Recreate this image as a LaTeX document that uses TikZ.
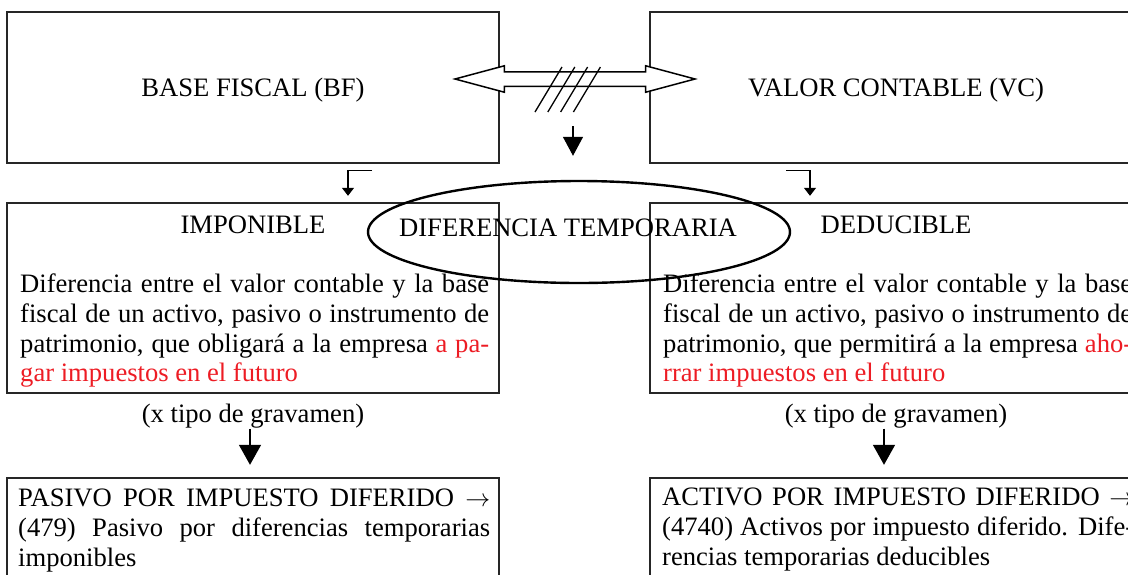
\documentclass[tikz,border=0pt]{standalone}
\usepackage{fontspec}
\setmainfont{Liberation Serif}
\usepackage{tikz}
\usetikzlibrary{arrows.meta,positioning,calc,shapes.geometric,shapes.arrows}
\definecolor{hlred}{RGB}{237,28,36}

\begin{document}
\begin{tikzpicture}[x=1pt, y=-1pt, font=\fontsize{26.6}{29.6}\selectfont,
    box/.style={draw=black!85, line width=2.4pt, minimum width=492pt, inner sep=0pt},
    para/.style={text width=469pt, align=justify, inner sep=0pt, anchor=north west},
    bent/.style={line width=1.2pt, -{Triangle[width=12pt,length=8pt]}},
    down/.style={line width=1.5pt, -{Triangle[width=22pt,length=20pt]}}]
  \clip (0,0) rectangle (1128,574);
  % upper boxes
  \node[box, minimum height=151pt, text depth=0pt] (bf) at (253,87.5) {BASE FISCAL (BF)};
  \node[box, minimum height=151pt, text depth=0pt] (vc) at (896,87.5) {VALOR CONTABLE (VC)};
  \node[draw, fill=white, line width=1.5pt, double arrow, double arrow tip angle=30,
    double arrow head extend=6pt, minimum height=240pt, inner xsep=0pt, inner ysep=6.5pt] (link) at (575,79) {};
  \foreach \i in {0,...,3}
    \draw[line width=1.3pt] ($(link.center)+({-40+12.8*\i},33)$) -- ++(27,-45);
  % middle boxes
  \node[box, minimum height=190pt] (imp) at (253,298) {};
  \node[box, minimum height=190pt] (dec) at (896,298) {};
  \node (impt) at ($(imp.north)+(0,23)$) {IMPONIBLE};
  \node (dect) at ($(dec.north)+(0,23)$) {DEDUCIBLE};
  \node[para] (impp) at (20,274) {Diferencia entre el valor contable y la base\linebreak
    fiscal de un activo, pasivo o instrumento de\linebreak
    patrimonio, que obligará a la empresa \textcolor{hlred}{a pa-\linebreak gar impuestos en el futuro}};
  \node[para] (decp) at (663,274) {Diferencia entre el valor contable y la base\linebreak
    fiscal de un activo, pasivo o instrumento de\linebreak
    patrimonio, que permitirá a la empresa \textcolor{hlred}{aho-\linebreak rrar impuestos en el futuro}};
  \draw[bent] ($(bf.south)+(119,6)$) -| ($(imp.north)+(95,-6)$);
  \draw[bent] ($(vc.south)+(-110,6)$) -| ($(dec.north)+(-86,-6)$);
  \node[draw, ellipse, line width=2.4pt, minimum width=422pt, minimum height=102pt] (diff) at (579,232) {};
  \node (difft) at ($(diff.center)+(-11,-4)$) {DIFERENCIA TEMPORARIA};
  \draw[line width=1.3pt, -{Triangle[width=20pt,length=19pt]}] ($(link.center)+(-2,47)$) -- ($(diff.north)+(-6,-24)$);
  % lower boxes
  \node (tl) at (253,416) {(x tipo de gravamen)};
  \node (tr) at (896,416) {(x tipo de gravamen)};
  \node[box, minimum height=130pt] (pas) at (253,543) {};
  \node[box, minimum height=130pt] (act) at (896,543) {};
  \draw[down] ($(tl.south)+(-3,-3)$) -- ($(pas.north)+(-3,-12)$);
  \draw[down] ($(tr.south)+(-12,-3)$) -- ($(act.north)+(-12,-12)$);
  \node[para, text width=472pt] (pasp) at (18,489) {PASIVO POR IMPUESTO DIFERIDO $\rightarrow$\linebreak
    (479) Pasivo por diferencias temporarias\linebreak imponibles};
  \node[para, text width=472pt] (actp) at (662,488) {ACTIVO POR IMPUESTO DIFERIDO $\rightarrow$\linebreak
    (4740) Activos por impuesto diferido. Dife-\linebreak rencias temporarias deducibles};
\end{tikzpicture}
\end{document}
